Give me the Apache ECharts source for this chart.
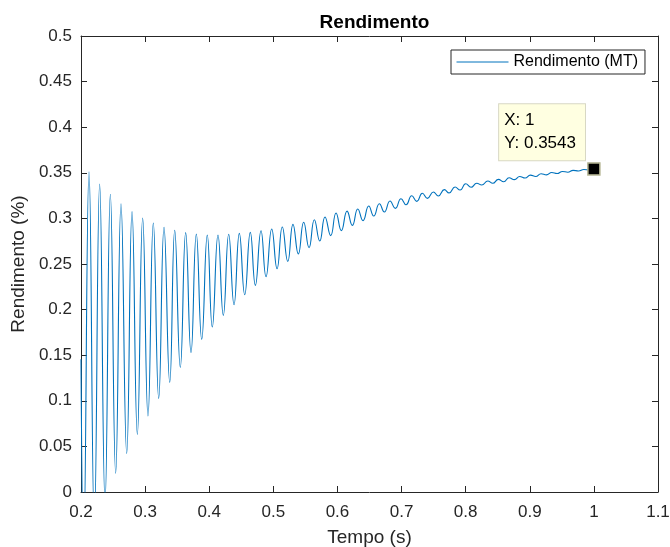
<!DOCTYPE html>
<html>
<head>
<meta charset="utf-8">
<script src="https://cdn.jsdelivr.net/npm/echarts@6/dist/echarts.min.js"></script>
<style>
  html, body { margin: 0; padding: 0; background: #fff; }
  #chart { width: 670px; height: 547px; }
</style>
</head>
<body>
<div id="chart"></div>
<script>
// Efficiency trace: turning points (peaks and valleys) of the oscillation over time
const tempo = [
  0.2000, 0.2040, 0.2125, 0.2208, 0.2291, 0.2375, 0.2458, 0.2541, 0.2624, 0.2713,
  0.2796, 0.2879, 0.2962, 0.3045, 0.3128, 0.3212, 0.3295, 0.3384, 0.3462, 0.3549,
  0.3633, 0.3716, 0.3799, 0.3883, 0.3970, 0.4048, 0.4137, 0.4220, 0.4304, 0.4387,
  0.4470, 0.4554, 0.4641, 0.4720, 0.4808, 0.4886, 0.4975, 0.5058, 0.5140, 0.5225,
  0.5307, 0.5390, 0.5474, 0.5557, 0.5640, 0.5724, 0.5806, 0.5895, 0.5978, 0.6061,
  0.6150, 0.6233, 0.6317, 0.6399, 0.6488, 0.6566, 0.6654, 0.6732, 0.6820, 0.6903,
  0.6992, 0.7070, 0.7159, 0.7237, 0.7325, 0.7403, 0.7496, 0.7574, 0.7668, 0.7741,
  0.7835, 0.7913, 0.8001, 0.8084, 0.8173, 0.8251, 0.8345, 0.8423, 0.8510, 0.8594,
  0.8677, 0.8760, 0.8843, 0.8927, 0.9010, 0.9093, 0.9176, 0.9260, 0.9343, 0.9426,
  0.9510, 0.9593, 0.9676, 0.9760, 0.9843, 0.9926, 1.0000
];
const rendimento = [
  0.1455, -0.060, 0.3510, -0.035, 0.3377, -0.010, 0.3264, 0.0205, 0.3161, 0.0424,
  0.3074, 0.0632, 0.3004, 0.0833, 0.2950, 0.1027, 0.2902, 0.1203, 0.2870, 0.1367,
  0.2844, 0.1527, 0.2829, 0.1674, 0.2818, 0.1809, 0.2818, 0.1937, 0.2826, 0.2054,
  0.2836, 0.2163, 0.2847, 0.2266, 0.2865, 0.2361, 0.2884, 0.2448, 0.2906, 0.2529,
  0.2935, 0.2610, 0.2957, 0.2679, 0.2986, 0.2752, 0.3015, 0.2811, 0.3060, 0.2866,
  0.3080, 0.2924, 0.3103, 0.2975, 0.3136, 0.3026, 0.3161, 0.3070, 0.3191, 0.3110,
  0.3216, 0.3150, 0.3249, 0.3187, 0.3275, 0.3220, 0.3289, 0.3246, 0.3315, 0.3279,
  0.3344, 0.3311, 0.3380, 0.3341, 0.3385, 0.3366, 0.3410, 0.3385, 0.3428, 0.3402,
  0.3445, 0.3425, 0.3460, 0.3443, 0.3475, 0.3460, 0.3490, 0.3477, 0.3503, 0.3492,
  0.3515, 0.3506, 0.3527, 0.3520, 0.3536, 0.3532, 0.3543
];
// Data tip point
const tipX = 1;
const tipY = 0.3543;

const FONT = '"Liberation Sans", Arial, Helvetica, sans-serif';
const INK = '#262626';

const seriesData = tempo.map((t, i) => [t, rendimento[i]]);

const chart = echarts.init(document.getElementById('chart'), null, { renderer: 'canvas' });

const boxAxisX = (pos, show) => ({
  type: 'value', position: pos, min: 0.2, max: 1.1, interval: 0.1,
  axisLine: { show: true, onZero: false, lineStyle: { color: INK, width: 1 } },
  axisTick: { show: true, inside: true, length: 6, lineStyle: { color: INK } },
  axisLabel: { show: show, color: INK, fontFamily: FONT, fontSize: 17, margin: 12 },
  splitLine: { show: false }
});
const boxAxisY = (pos, show) => ({
  type: 'value', position: pos, min: 0, max: 0.5, interval: 0.05,
  axisLine: { show: true, onZero: false, lineStyle: { color: INK, width: 1 } },
  axisTick: { show: true, inside: true, length: 6, lineStyle: { color: INK } },
  axisLabel: { show: show, color: INK, fontFamily: FONT, fontSize: 17, margin: 9 },
  splitLine: { show: false }
});

const xBottom = Object.assign(boxAxisX('bottom', true), {
  name: 'Tempo (s)', nameLocation: 'middle', nameGap: 36,
  nameTextStyle: { color: INK, fontFamily: FONT, fontSize: 19 }
});
const yLeft = Object.assign(boxAxisY('left', true), {
  name: 'Rendimento (%)', nameLocation: 'middle', nameGap: 47,
  nameTextStyle: { color: INK, fontFamily: FONT, fontSize: 19 }
});

chart.setOption({
  animation: false,
  backgroundColor: '#ffffff',
  title: {
    text: 'Rendimento',
    left: 369.5, textAlign: 'center', top: 8,
    textStyle: { color: '#000', fontFamily: FONT, fontSize: 19, fontWeight: 'bold' }
  },
  grid: {
    left: 81, right: 12, top: 36, bottom: 55,
    containLabel: false, outerBoundsMode: 'none'
  },
  xAxis: [xBottom, boxAxisX('top', false)],
  yAxis: [yLeft, boxAxisY('right', false)],
  legend: {
    left: 451, top: 50,
    padding: [4, 7, 4, 5],
    itemWidth: 52, itemHeight: 18,
    backgroundColor: '#ffffff',
    borderColor: INK, borderWidth: 1, borderRadius: 0,
    itemStyle: { opacity: 0 },
    lineStyle: { width: 1 },
    textStyle: { color: '#000', fontFamily: FONT, fontSize: 16 },
    data: ['Rendimento (MT)']
  },
  series: [{
    name: 'Rendimento (MT)',
    type: 'line',
    xAxisIndex: 0, yAxisIndex: 0,
    data: seriesData,
    smooth: 0.5,
    symbol: 'none',
    showSymbol: false,
    clip: true,
    lineStyle: { color: '#0072BD', width: 1.1 },
    itemStyle: { color: '#0072BD' },
    markPoint: {
      symbol: 'rect',
      symbolSize: 12,
      itemStyle: { color: '#000000', borderColor: '#b5b592', borderWidth: 1.5 },
      label: {
        show: true,
        position: [-88, -58],
        align: 'left', verticalAlign: 'top',
        formatter: (p) => 'X: ' + p.data.coord[0] + '\nY: ' + p.data.coord[1],
        color: '#000', fontFamily: FONT, fontSize: 17, lineHeight: 23,
        backgroundColor: '#ffffe1',
        borderColor: '#d8d8c4', borderWidth: 1,
        padding: [5, 9, 5, 5]
      },
      data: [{ coord: [tipX, tipY] }]
    }
  }]
});
</script>
</body>
</html>
